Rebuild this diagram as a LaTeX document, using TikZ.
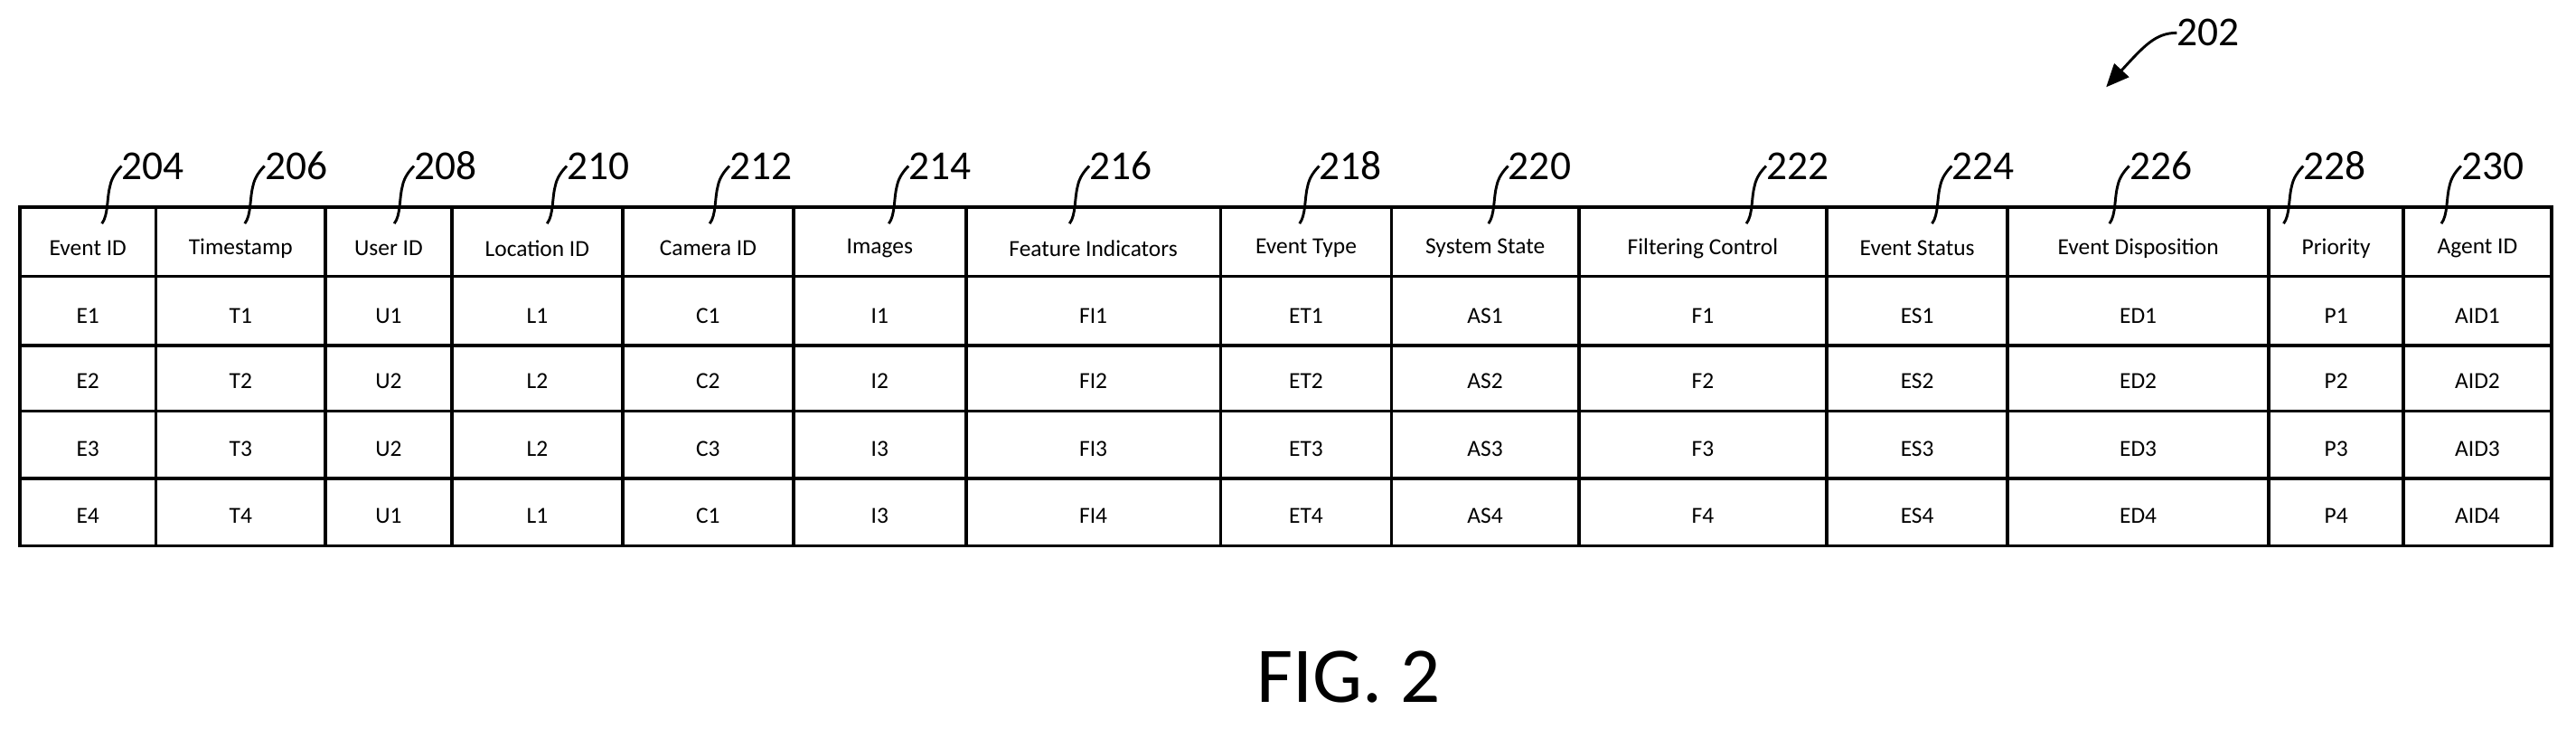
\documentclass[tikz,border=0pt]{standalone}
\usepackage{fontspec}
\setmainfont{Carlito}
\usetikzlibrary{arrows.meta}
\begin{document}
\begin{tikzpicture}[x=1pt,y=-1pt,
  grid/.style={line width=2pt},
  cell/.style={font=\fontsize{14}{16}\selectfont, inner sep=0pt},
  num/.style={font=\fontsize{25}{28}\selectfont, inner sep=0pt, anchor=west},
  lead/.style={line width=1.6pt}]
\useasboundingbox (0,0) rectangle (1568,443);
% grid
\draw[grid] (12,126) rectangle (1553,332);
\foreach \y in {168,210,250,291} \draw[grid] (12,\y) -- (1553,\y);
\foreach \x in {95,198,275,379,483,588,743,847,961,1112,1222,1381,1463} \draw[grid] (\x,126) -- (\x,332);
% headers and cells
\def\xs{12,95,198,275,379,483,588,743,847,961,1112,1222,1381,1463,1553}
\foreach \a/\b/\h/\ra/\rb/\rc/\rd [count=\i] in {
 12/95/Event ID/E1/E2/E3/E4,
 95/198/Timestamp/T1/T2/T3/T4,
 198/275/User ID/U1/U2/U2/U1,
 275/379/Location ID/L1/L2/L2/L1,
 379/483/Camera ID/C1/C2/C3/C1,
 483/588/Images/I1/I2/I3/I3,
 588/743/Feature Indicators/FI1/FI2/FI3/FI4,
 743/847/Event Type/ET1/ET2/ET3/ET4,
 847/961/System State/AS1/AS2/AS3/AS4,
 961/1112/Filtering Control/F1/F2/F3/F4,
 1112/1222/Event Status/ES1/ES2/ES3/ES4,
 1222/1381/Event Disposition/ED1/ED2/ED3/ED4,
 1381/1463/Priority/P1/P2/P3/P4,
 1463/1553/Agent ID/AID1/AID2/AID3/AID4}{
 \pgfmathsetmacro\cx{(\a+\b)/2}
 \node[cell] (h\i) at (\cx,151) {\h};
 \node[cell] (r1c\i) at (\cx,192) {\ra};
 \node[cell] (r2c\i) at (\cx,232) {\rb};
 \node[cell] (r3c\i) at (\cx,273) {\rc};
 \node[cell] (r4c\i) at (\cx,314) {\rd};
}
% reference numerals with leaders
\foreach \sx/\t in {62/204,149/206,240/208,333/210,432/212,541/214,651/216,791/218,906/220,1063/222,1176/224,1284/226,1390/228,1486/230}{
 \node[num] (n\t) at (\sx+12,101) {\t};
 \coordinate (s\t) at (\sx,136);
 \draw[lead] (s\t) .. controls (\sx+4,131) and (\sx+3,120) .. (\sx+5,113) .. controls (\sx+6,108) and (\sx+9,104) .. (n\t.west);
}
% 202
\node[num] (n202) at (1325,20) {202};
\coordinate (a202) at (1282,53);
\draw[lead,-{Triangle[length=14pt,width=12pt]}] (n202.west) .. controls (1312,20) and (1305,28) .. (a202);
% caption
\node[font=\fontsize{48}{52}\selectfont, inner sep=0pt] (fig) at (821,412) {FIG. 2};
\end{tikzpicture}
\end{document}
